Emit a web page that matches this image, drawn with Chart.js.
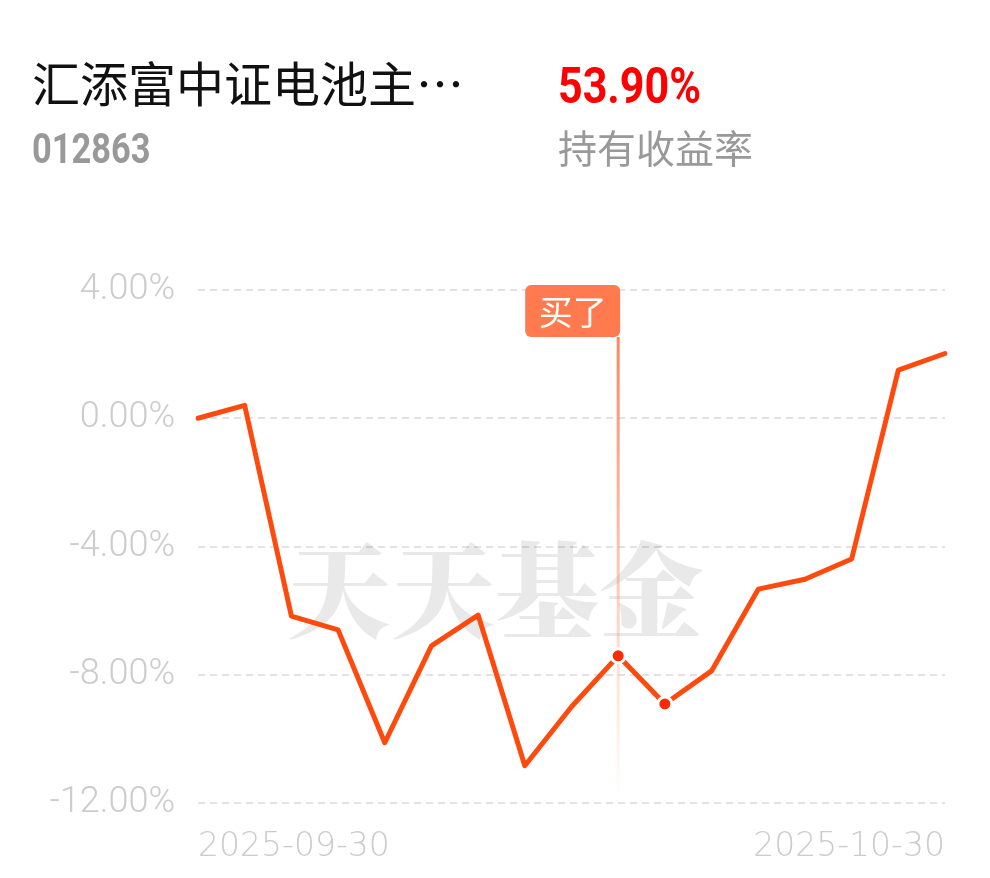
<!DOCTYPE html>
<html>
<head>
<meta charset="utf-8">
<script src="https://cdn.jsdelivr.net/npm/chart.js@4.4.1/dist/chart.umd.min.js"></script>
<style>
  html, body { margin: 0; padding: 0; background: #fff; }
  #wrap { position: relative; width: 990px; height: 878px; overflow: hidden; }
  #chart { position: absolute; left: 0; top: 0; }
  .t { position: absolute; white-space: nowrap; transform-origin: left top; }
  #title { left: 32px; top: 46px; font: 48px "Noto Sans CJK SC", sans-serif; color: #111; }
  #code { left: 32px; top: 124px; font: bold 42px Roboto, sans-serif; color: #999; transform: scaleX(0.82); }
  #rate { left: 558px; top: 57px; font: bold 50px Roboto, sans-serif; color: #f00; transform: scaleX(0.86); }
  #rateLabel { left: 558px; top: 118px; font: 39px "Noto Sans CJK SC", sans-serif; color: #999; }
</style>
</head>
<body>
<div id="wrap">
  <canvas id="chart" width="990" height="878"></canvas>
  <div class="t" id="title">汇添富中证电池主…</div>
  <div class="t" id="code">012863</div>
  <div class="t" id="rate">53.90%</div>
  <div class="t" id="rateLabel">持有收益率</div>
</div>
<script>
const dates = ['2025-09-30', '2025-10-09', '2025-10-10', '2025-10-13', '2025-10-14', '2025-10-15',
               '2025-10-16', '2025-10-17', '2025-10-20', '2025-10-21', '2025-10-22', '2025-10-23',
               '2025-10-24', '2025-10-27', '2025-10-28', '2025-10-29', '2025-10-30'];
const returns = [0.00, 0.40, -6.17, -6.60, -10.12, -7.10, -6.14, -10.84, -9.00,
                 -7.41, -8.91, -7.88, -5.33, -5.02, -4.39, 1.50, 2.02];
const yTicks = [-12, -8, -4, 0, 4];
const buyIndex = 9;
const markedIndexes = [9, 10];
const buyText = '买了';
const watermarkText = '天天基金';

const lineColor = '#ff4a0d';
const tagColor = '#ff7b4f';

const watermark = {
    id: 'watermark',
    beforeDatasetsDraw(chart) {
        const ctx = chart.ctx;
        ctx.save();
        ctx.font = '900 104px "Noto Serif CJK SC", "Noto Sans CJK SC", serif';
        ctx.fillStyle = 'rgba(0,0,0,0.085)';
        ctx.textAlign = 'center';
        ctx.textBaseline = 'middle';
        ctx.fillText(watermarkText, chart.width / 2, 590);
        ctx.restore();

        // buy marker line, fading downward
        const x = chart.scales.x.getPixelForValue(buyIndex);
        const area = chart.chartArea;
        const top = area.top + 47;
        const bottom = area.bottom - 6;
        const grad = ctx.createLinearGradient(0, top, 0, bottom);
        grad.addColorStop(0, 'rgba(255,128,85,0.95)');
        grad.addColorStop(0.6, 'rgba(255,128,85,0.35)');
        grad.addColorStop(1, 'rgba(255,128,85,0)');
        ctx.save();
        ctx.fillStyle = grad;
        ctx.fillRect(x - 1.5, top, 3, bottom - top);
        ctx.restore();
    },
    afterDatasetsDraw(chart) {
        const ctx = chart.ctx;
        const x = chart.scales.x.getPixelForValue(buyIndex);
        const area = chart.chartArea;
        const w = 95, h = 52;
        const left = x + 2 - w, top = area.top - 5;
        ctx.save();
        ctx.fillStyle = tagColor;
        ctx.beginPath();
        ctx.roundRect(left, top, w, h, 6);
        ctx.fill();
        ctx.fillStyle = '#fff';
        ctx.font = '34px "Noto Sans CJK SC", sans-serif';
        ctx.textAlign = 'center';
        ctx.textBaseline = 'middle';
        ctx.fillText(buyText, left + w / 2, top + h / 2 + 1);
        ctx.restore();
    }
};

const ctx = document.getElementById('chart').getContext('2d');
new Chart(ctx, {
    type: 'line',
    data: {
        labels: dates,
        datasets: [{
            data: returns,
            borderColor: lineColor,
            borderWidth: 5,
            borderJoinStyle: 'round',
            borderCapStyle: 'round',
            tension: 0,
            pointRadius: c => markedIndexes.includes(c.dataIndex) ? 7 : 0,
            pointBackgroundColor: '#ff2a00',
            pointBorderColor: '#fff',
            pointBorderWidth: 3,
            fill: false
        }]
    },
    options: {
        responsive: false,
        animation: false,
        events: [],
        layout: { padding: { top: 290, right: 45, bottom: 0, left: 0 } },
        plugins: { legend: { display: false }, tooltip: { enabled: false } },
        scales: {
            x: {
                offset: false,
                grid: { display: false, drawTicks: false },
                border: { display: false },
                afterFit: s => { s.height = 75; },
                ticks: {
                    autoSkip: false,
                    maxRotation: 0,
                    align: 'inner',
                    padding: 25,
                    color: '#cccccc',
                    font: { family: 'DejaVu Sans', size: 33, weight: 200 },
                    callback: (v, i) => (i === 0 || i === dates.length - 1) ? dates[i] : ''
                }
            },
            y: {
                min: yTicks[0],
                max: yTicks[yTicks.length - 1],
                afterFit: s => { s.width = 198; },
                afterBuildTicks: s => { s.ticks = yTicks.map(v => ({ value: v })); },
                grid: { color: '#e2e2e2', lineWidth: 2, drawTicks: false },
                border: { display: false, dash: [7, 5] },
                ticks: {
                    padding: 23,
                    color: '#cccccc',
                    font: { family: 'Roboto', size: 36, weight: 300 },
                    callback: v => v.toFixed(2) + '%'
                }
            }
        }
    },
    plugins: [watermark]
});
</script>
</body>
</html>
